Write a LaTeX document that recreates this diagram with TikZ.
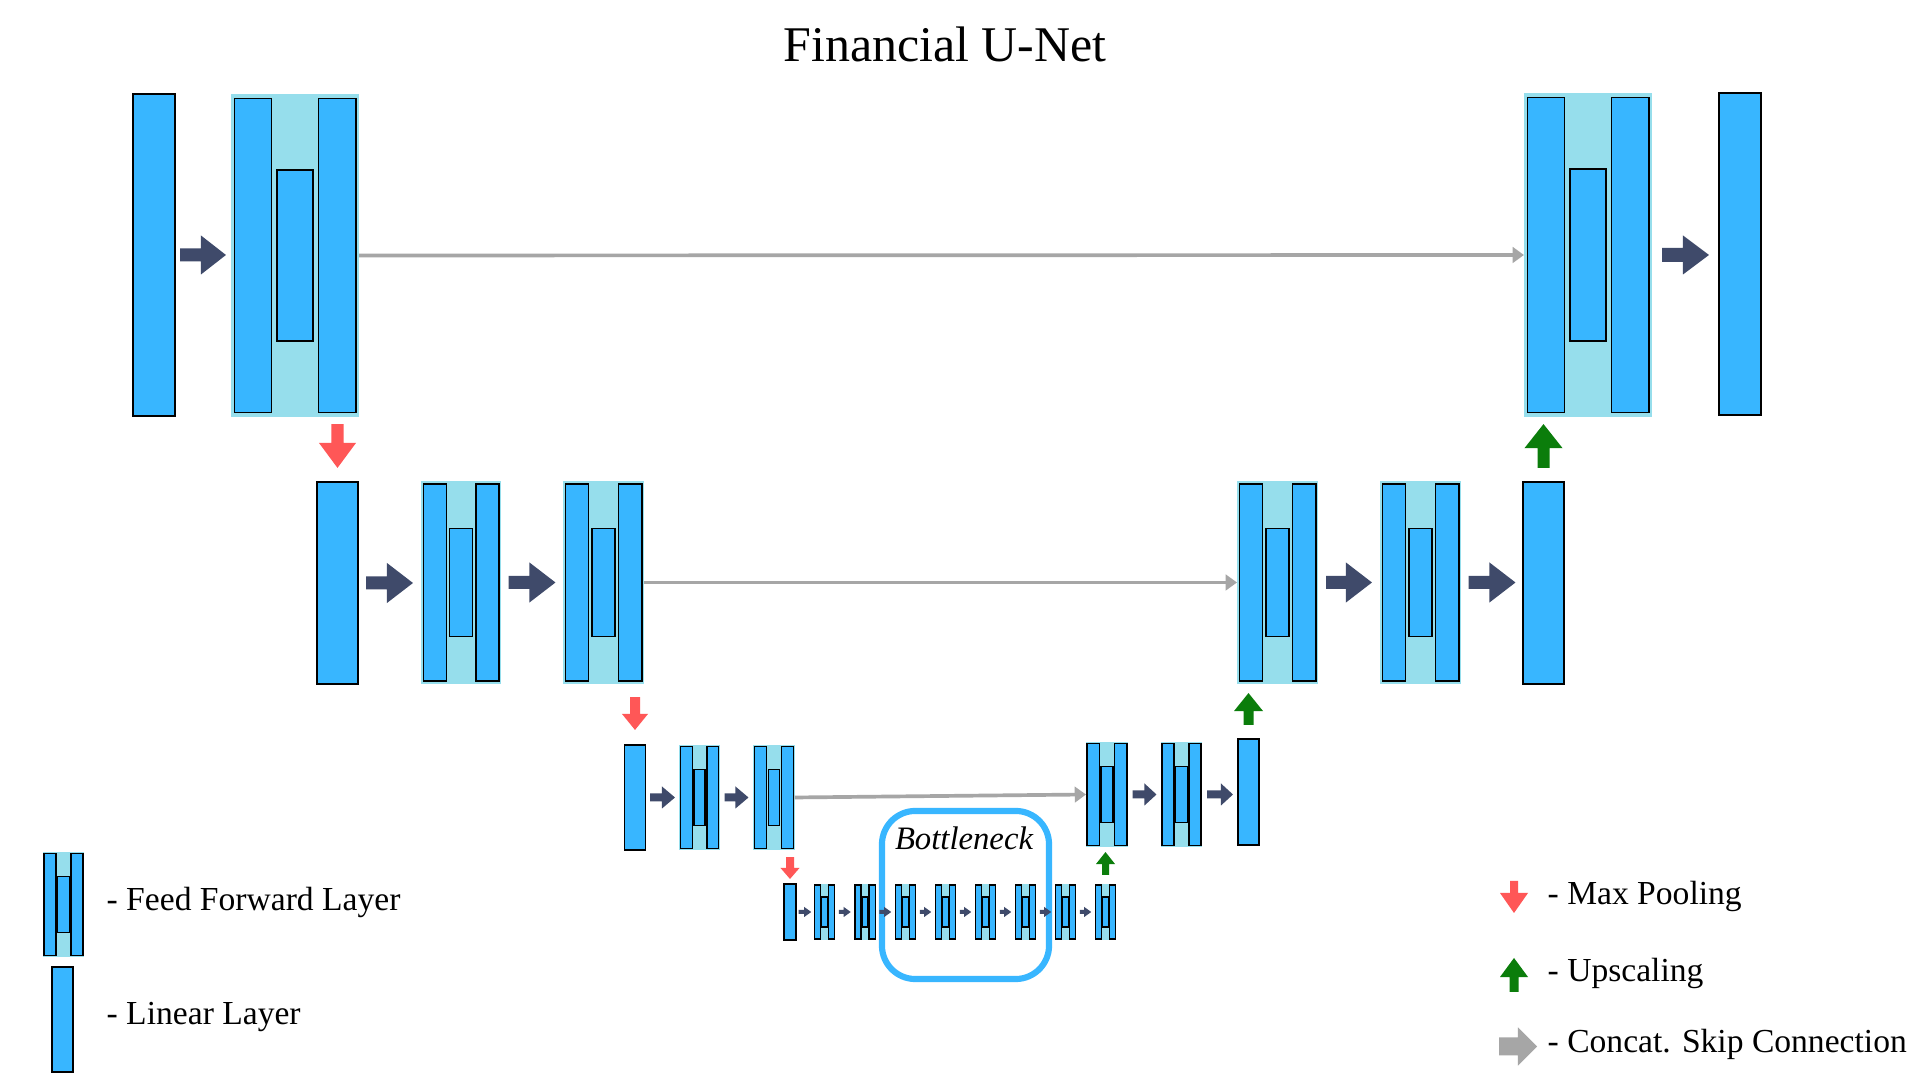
\documentclass[tikz,border=0pt]{standalone}
\usepackage{fontspec}
\setmainfont{Liberation Serif}
\usetikzlibrary{calc,arrows.meta}
\definecolor{barblue}{HTML}{38B6FF}
\definecolor{ffbgc}{HTML}{96DEEC}
\definecolor{darkarr}{HTML}{3F4A6A}
\definecolor{redarr}{HTML}{FF5757}
\definecolor{greenarr}{HTML}{0B7D0B}
\definecolor{skipgray}{HTML}{A6A6A6}
\newcommand\pxu{0.28453pt}
\tikzset{
  ffbg/.style={fill=ffbgc, draw=none, inner sep=0pt, outer sep=0pt},
  bar/.style={fill=barblue, draw=black, line width=0.4pt, inner sep=0pt, outer sep=0pt},
  dark/.style={fill=darkarr},
  redfill/.style={fill=redarr},
  greenfill/.style={fill=greenarr},
  grayfill/.style={fill=skipgray},
  skipline/.style={draw=skipgray, line width=1.05pt, -{Triangle[length=3.2pt,width=4.4pt]}},
  legtext/.style={anchor=base west, font=\fontsize{9.55}{11}\selectfont, inner sep=0pt},
}
% linear layer block: name, cx, cy, w, h (pixels)
\newcommand\linblock[5]{\node[bar, minimum width={#4*\pxu}, minimum height={#5*\pxu}] (#1) at (#2,#3) {};}
% feed forward block: name, cx, cy, w, h
\newcommand\ffblock[5]{%
  \node[ffbg, minimum width={#4*\pxu}, minimum height={#5*\pxu}] (#1) at (#2,#3) {};
  \node[bar, minimum width={0.29*#4*\pxu}, minimum height={0.97*#5*\pxu}] (#1-l) at ({#2-0.327*#4},#3) {};
  \node[bar, minimum width={0.28*#4*\pxu}, minimum height={0.53*#5*\pxu}] (#1-m) at (#2,#3) {};
  \node[bar, minimum width={0.29*#4*\pxu}, minimum height={0.97*#5*\pxu}] (#1-r) at ({#2+0.330*#4},#3) {};
}
% horizontal block arrow: style, from, to, gap, shaft half, head half, head length
\newcommand\harr[7]{%
  \fill[#1] let \p1=(#2.east), \p2=(#3.west) in
  ({\x1+#4*\pxu},{\y1+#5*\pxu}) -- ({\x2-(#4+#7)*\pxu},{\y1+#5*\pxu}) --
  ({\x2-(#4+#7)*\pxu},{\y1+#6*\pxu}) -- ({\x2-#4*\pxu},{\y1}) --
  ({\x2-(#4+#7)*\pxu},{\y1-#6*\pxu}) -- ({\x2-(#4+#7)*\pxu},{\y1-#5*\pxu}) --
  ({\x1+#4*\pxu},{\y1-#5*\pxu}) -- cycle;}
% downward block arrow: style, upper, lower, top gap, bottom gap, shaft half, head half, head length
\newcommand\downarr[8]{%
  \fill[#1] let \p1=(#3.north), \p2=(#2.south) in
  ({\x1-#6*\pxu},{\y2-#4*\pxu}) -- ({\x1-#6*\pxu},{\y1+(#5+#8)*\pxu}) --
  ({\x1-#7*\pxu},{\y1+(#5+#8)*\pxu}) -- ({\x1},{\y1+#5*\pxu}) --
  ({\x1+#7*\pxu},{\y1+(#5+#8)*\pxu}) -- ({\x1+#6*\pxu},{\y1+(#5+#8)*\pxu}) --
  ({\x1+#6*\pxu},{\y2-#4*\pxu}) -- cycle;}
% upward block arrow: style, upper, lower, top gap, bottom gap, shaft half, head half, head length
\newcommand\uparr[8]{%
  \fill[#1] let \p1=(#3.north), \p2=(#2.south) in
  ({\x1-#6*\pxu},{\y1+#5*\pxu}) -- ({\x1-#6*\pxu},{\y2-(#4+#8)*\pxu}) --
  ({\x1-#7*\pxu},{\y2-(#4+#8)*\pxu}) -- ({\x1},{\y2-#4*\pxu}) --
  ({\x1+#7*\pxu},{\y2-(#4+#8)*\pxu}) -- ({\x1+#6*\pxu},{\y2-(#4+#8)*\pxu}) --
  ({\x1+#6*\pxu},{\y1+#5*\pxu}) -- cycle;}

\begin{document}
\begin{tikzpicture}[x=0.01cm, y=-0.01cm]
\fill[white] (0,0) rectangle (1920,1080);
\useasboundingbox (0,0) rectangle (1920,1080);

% title
\node[anchor=base, font=\fontsize{14.2}{17}\selectfont, inner sep=0pt] (title) at (945,62) {Financial U-Net};

% bottleneck frame
\node[draw=barblue, line width=1.75pt, rounded corners=9.5pt, minimum width={167*\pxu}, minimum height={168*\pxu}, inner sep=0pt] (bneck) at (965.5,895) {};
\node[anchor=base, font=\fontsize{9.3}{11}\selectfont\itshape, inner sep=0pt] (btext) at (964,850) {Bottleneck};

% row 1
\linblock{L1a}{154}{255}{42}{322}
\ffblock{F1a}{295}{255.5}{128}{323}
\ffblock{F1b}{1588}{255}{128}{324}
\linblock{L1b}{1740}{254}{42}{322}

% row 2
\linblock{L2a}{337.5}{583}{41}{202}
\ffblock{F2a}{461}{582.5}{80}{203}
\ffblock{F2b}{603.5}{582.5}{81}{203}
\ffblock{F2c}{1277.5}{582.5}{81}{203}
\ffblock{F2d}{1420.5}{582.5}{81}{203}
\linblock{L2b}{1543.5}{583}{41}{202}

% row 3
\linblock{L3a}{635}{797.5}{21}{105}
\ffblock{F3a}{699.5}{797.5}{40}{105}
\ffblock{F3b}{774}{797.5}{41}{105}
\ffblock{F3c}{1107}{794.5}{42}{105}
\ffblock{F3d}{1181.5}{794.5}{41}{105}
\linblock{L3b}{1248.5}{792}{21}{106}

% row 4
\linblock{L4a}{790}{912}{12}{56}
\foreach \i/\xx in {1/824.5,2/865,3/905.5,4/945.5,5/985.5,6/1025.5,7/1065.5,8/1105.5}{
  \ffblock{F4-\i}{\xx}{912}{21.5}{56}
}

% horizontal arrows
\harr{dark}{L1a}{F1a}{5}{6.5}{19.5}{25}
\harr{dark}{F1b}{L1b}{10}{7}{19.5}{26}
\harr{dark}{L2a}{F2a}{8}{6.5}{20}{26}
\harr{dark}{F2a}{F2b}{7.5}{6.5}{20}{26}
\harr{dark}{F2c}{F2d}{8}{6.5}{20}{26}
\harr{dark}{F2d}{L2b}{7.5}{6.5}{20}{26}
\harr{dark}{L3a}{F3a}{4.5}{4}{11}{13}
\harr{dark}{F3a}{F3b}{5}{4}{11}{13}
\harr{dark}{F3c}{F3d}{4.5}{4}{11}{12}
\harr{dark}{F3d}{L3b}{5}{4}{11}{12}
\harr{dark}{L4a}{F4-1}{2.5}{2}{5}{7}
\foreach \i [evaluate=\i as \j using int(\i+1)] in {1,...,7}{
  \harr{dark}{F4-\i}{F4-\j}{3.5}{2}{5}{7}
}

% skip connections
\draw[skipline] (F1a.east) -- (F1b.west);
\draw[skipline] (F2b.east) -- (F2c.west);
\draw[skipline] (F3b.east) -- (F3c.west);

% pooling / upscaling arrows
\downarr{redfill}{F1a}{L2a}{7}{14}{6}{18.5}{25}
\uparr{greenfill}{F1b}{L2b}{7}{14}{6}{19}{24}
\downarr{redfill}{F2b}{L3a}{13}{15}{5}{13}{16}
\uparr{greenfill}{F2c}{L3b}{9}{14}{5}{14.5}{18}
\downarr{redfill}{F3b}{L4a}{7}{5}{4}{9.5}{11}
\uparr{greenfill}{F3c}{F4-8}{5}{9}{3.5}{9.5}{12}

% legend left
\ffblock{legFF}{63.5}{904.5}{41}{105}
\linblock{legL}{62.5}{1019.5}{21}{105}
\node[legtext] (tFF) at (106,911) {- Feed Forward Layer};
\node[legtext] (tL) at (106,1025) {- Linear Layer};

% legend right
\coordinate (mpA) at (1514,881);
\coordinate (mpB) at (1514,913);
\downarr{redfill}{mpA}{mpB}{0}{0}{4}{14}{20}
\coordinate (upA) at (1514,958);
\coordinate (upB) at (1514,992);
\uparr{greenfill}{upA}{upB}{0}{0}{4.5}{14}{19}
\coordinate (csA) at (1499,1046.5);
\coordinate (csB) at (1537,1046.5);
\harr{grayfill}{csA}{csB}{0}{9}{19}{19}
\node[legtext] (tMP) at (1547,905) {- Max Pooling};
\node[legtext] (tUP) at (1547,982) {- Upscaling};
\node[legtext] (tCS) at (1547,1053) {- Concat. Skip Connection};
\end{tikzpicture}
\end{document}
